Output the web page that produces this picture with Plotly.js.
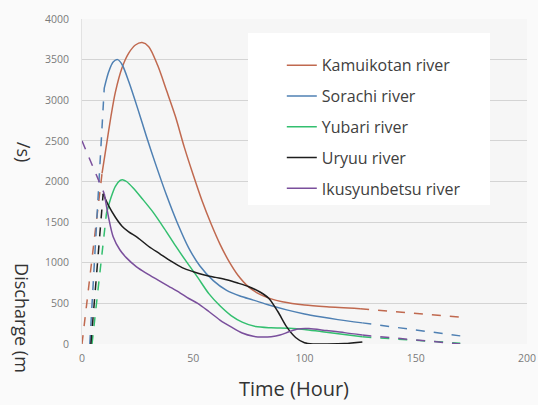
<!DOCTYPE html>
<html>
<head>
<meta charset="utf-8">
<script src="https://cdn.plot.ly/plotly-3.0.1.min.js"></script>
<style>html,body{margin:0;padding:0;background:#fafafa;}#chart{width:538px;height:405px;}</style>
</head>
<body>
<div id="chart"></div>
<script>
// River names
const rivers = ["Kamuikotan river", "Sorachi river", "Yubari river", "Uryuu river", "Ikusyunbetsu river"];
const colors = ["#c0694f", "#4f80b3", "#33bf6f", "#1e1e1e", "#7a4f9c"];

// Observed (solid) hydrographs: time (hour) and discharge (m3/s)
const kamuiT = [9,11,13,15,18,21,24,27,30,34,38,42,46,50,54,58,62,66,70,75,80,85,90,100,110,125];
const kamuiQ = [2100,2450,2800,3100,3400,3580,3680,3710,3660,3430,3120,2800,2420,2080,1760,1480,1230,1020,850,700,610,555,520,480,458,435];
const sorachiT = [10,12,14,16,18,21,25,29,33,38,43,48,53,59,65,71,77,84,92,100,107,115,126];
const sorachiQ = [3150,3350,3470,3500,3440,3230,2900,2550,2220,1830,1480,1180,960,780,660,590,540,480,420,370,335,300,260];
const yubariT = [11,13,15,17,18.5,20,23,27,32,37,42,47,52,57,62,67,72,78,85,93,100,108,117,126];
const yubariQ = [1610,1800,1940,2010,2020,2000,1920,1790,1620,1420,1210,1010,820,620,470,350,270,215,200,195,180,150,120,88];
const uryuuT = [9.5,12,15,18,21,25,30,35,40,45,50,55,60,65,70,75,80,84,88,92,96,100,104,110,118,126];
const uryuuQ = [1850,1700,1560,1450,1380,1310,1200,1110,1020,940,890,850,820,790,750,705,640,560,400,210,80,15,0,0,5,25];
const ikuT = [10,12,14,17,20,24.5,29,34,39,44,48,52,57,62,67,72,77,81,85,89,93,97,102,110,118,126];
const ikuQ = [1850,1550,1320,1160,1060,950,870,790,710,630,560,500,400,295,210,135,95,85,90,110,150,185,190,165,140,110];

// Extrapolated (dashed) rising limbs
const kamuiRiseT = [0,9],    kamuiRiseQ = [0,2100];
const sorachiRiseT = [3.5,10], sorachiRiseQ = [0,3150];
const yubariRiseT = [4.5,11], yubariRiseQ = [0,1610];
const uryuuRiseT = [4,9.5],  uryuuRiseQ = [0,1850];
const ikuRiseT = [0,10],     ikuRiseQ = [2500,1850];

// Extrapolated (dashed) recession tails
const kamuiTailT = [125,170],   kamuiTailQ = [435,330];
const sorachiTailT = [126,170], sorachiTailQ = [260,100];
const yubariTailT = [126,170],  yubariTailQ = [88,10];
const ikuTailT = [126,170],     ikuTailQ = [110,0];

// Tick labels
const xTicks = [0,50,100,150,200];
const yTicks = [0,500,1000,1500,2000,2500,3000,3500,4000];

const solid = [[kamuiT,kamuiQ],[sorachiT,sorachiQ],[yubariT,yubariQ],[uryuuT,uryuuQ],[ikuT,ikuQ]];
const rises = [[kamuiRiseT,kamuiRiseQ],[sorachiRiseT,sorachiRiseQ],[yubariRiseT,yubariRiseQ],[uryuuRiseT,uryuuRiseQ],[ikuRiseT,ikuRiseQ]];
const tails = [[kamuiTailT,kamuiTailQ],[sorachiTailT,sorachiTailQ],[yubariTailT,yubariTailQ],null,[ikuTailT,ikuTailQ]];

const traces = [];
rivers.forEach((name,i)=>{
  traces.push({x: rises[i][0], y: rises[i][1], mode:'lines', type:'scatter', showlegend:false, legendgroup:'g'+i,
    line:{color:colors[i], width:1.5, dash:'dash'}, hoverinfo:'skip'});
  if (tails[i]) traces.push({x: tails[i][0], y: tails[i][1], mode:'lines', type:'scatter', showlegend:false, legendgroup:'g'+i,
    line:{color:colors[i], width:1.5, dash:'dash'}, hoverinfo:'skip'});
});
rivers.forEach((name,i)=>{
  traces.push({x: solid[i][0], y: solid[i][1], name: name, mode:'lines', type:'scatter', legendgroup:'g'+i,
    line:{color:colors[i], width:1.5, shape:'spline', smoothing:0.8}});
});

const layout = {
  width:538, height:405,
  margin:{l:82, r:11, t:19, b:61},
  paper_bgcolor:'#fafafa', plot_bgcolor:'#f6f6f6',
  font:{family:'"Open Sans", "DejaVu Sans", sans-serif', color:'#333'},
  xaxis:{range:[0,200], tickvals:xTicks, ticktext:xTicks.map(String), showgrid:false, zeroline:false,
    showline:false, ticks:'', tickfont:{size:10.5, color:'#7a7a7a'}, ticklabelstandoff:6},
  yaxis:{range:[0,4000], tickvals:yTicks, ticktext:yTicks.map(String), showgrid:true, gridcolor:'#d4d4d4', gridwidth:1,
    zeroline:false, showline:true, linecolor:'#e2e2e2', ticks:'', tickfont:{size:10.5, color:'#7a7a7a'}, ticklabelstandoff:10},
  showlegend:true,
  legend:{x:0.449, xanchor:'left', y:0.91, yanchor:'top', bgcolor:'rgba(0,0,0,0)',
    font:{size:16, color:'#404040'}, traceorder:'grouped', tracegroupgap:7},
  shapes:[{type:'rect', xref:'paper', yref:'paper', x0:(248-82)/445, x1:(490-82)/445, y0:(344-205)/325, y1:(344-33)/325,
    fillcolor:'#ffffff', line:{width:0}, layer:'above'}],
  annotations:[
    {text:'Time (Hour)', xref:'paper', yref:'paper', x:(294-82)/445, y:-0.09, xanchor:'center', yanchor:'top', showarrow:false,
      font:{size:20, color:'#333'}},
    {text:'Discharge (m', xref:'paper', x:-0.135, xanchor:'center', yref:'paper', y:(344-318)/325, yanchor:'middle',
      textangle:90, showarrow:false, font:{size:18, color:'#333'}},
    {text:'/s)', xref:'paper', x:-0.13, xanchor:'center', yref:'paper', y:(344-152)/325, yanchor:'middle',
      textangle:90, showarrow:false, font:{size:18, color:'#333'}}
  ]
};

Plotly.newPlot('chart', traces, layout, {displayModeBar:false, staticPlot:true});
</script>
</body>
</html>
